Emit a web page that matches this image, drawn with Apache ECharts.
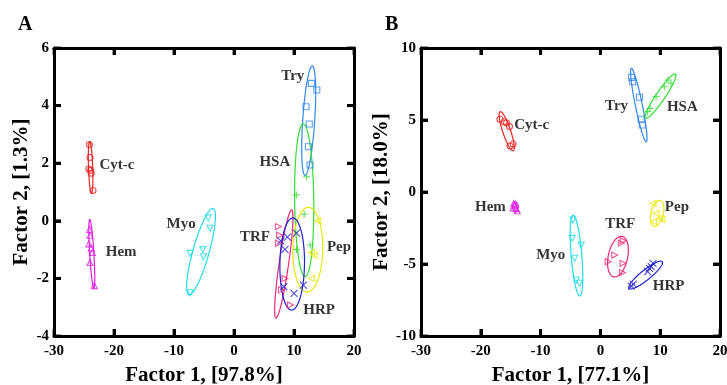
<!DOCTYPE html>
<html>
<head>
<meta charset="utf-8">
<script src="https://cdn.jsdelivr.net/npm/echarts@6/dist/echarts.min.js"></script>
<style>
html, body { margin: 0; padding: 0; background: #fff; }
#main { width: 727px; height: 385px; }
</style>
</head>
<body>
<div id="main"></div>
<script>
// groups, in drawing order
var groups = ['Cyt-c', 'Hem', 'Myo', 'Try', 'HSA', 'Pep', 'TRF', 'HRP'];

// panel A scores
var cytcA = [[-24.1, 2.65], [-24.0, 2.2], [-24.2, 1.8], [-23.8, 1.65], [-23.9, 1.75], [-23.5, 1.05]];
var hemA = [[-24.1, -0.3], [-24.0, -0.5], [-24.2, -0.8], [-23.8, -0.95], [-23.6, -1.1], [-24.0, -1.45], [-23.3, -2.25]];
var myoA = [[-4.3, 0.1], [-4.0, -0.26], [-7.3, -1.13], [-5.2, -1.0], [-5.1, -1.25], [-7.3, -2.5]];
var tryA = [[12.9, 4.77], [13.8, 4.54], [12.0, 3.96], [12.55, 3.36], [12.4, 2.57], [12.67, 1.94]];
var hsaA = [[12.1, 1.53], [10.4, 0.9], [11.7, 0.23], [10.4, -1.0], [12.7, -0.84]];
var pepA = [[14.0, 0.0], [12.9, -1.1], [13.3, -1.2], [12.9, -2.0]];
var trfA = [[7.4, -0.2], [7.4, -0.78], [8.5, -2.0], [7.9, -2.4], [9.4, -2.92], [7.6, -0.5]];
var hrpA = [[8.9, -0.57], [10.4, -0.43], [8.5, -0.99], [8.3, -2.29], [11.55, -2.23], [10.0, -2.52], [7.8, -0.7]];

// panel B scores
var cytcB = [[-16.8, 5.05], [-16.1, 4.88], [-15.7, 4.8], [-15.2, 4.54], [-15.1, 3.19], [-14.6, 3.33]];
var hemB = [[-14.5, -0.8], [-14.3, -0.95], [-14.1, -1.15], [-14.6, -1.1], [-14.2, -0.85], [-13.9, -1.3]];
var myoB = [[-4.6, -1.94], [-4.7, -3.22], [-3.2, -3.68], [-4.3, -4.6], [-4.0, -6.11], [-3.5, -6.34]];
var tryB = [[5.2, 7.96], [5.4, 7.66], [6.55, 6.58], [6.8, 5.05], [7.0, 4.65]];
var hsaB = [[7.9, 5.58], [8.3, 5.8], [9.3, 6.62], [10.7, 7.31], [11.3, 7.78], [11.8, 7.55]];
var pepB = [[8.8, -0.79], [9.3, -1.48], [9.9, -1.83], [10.3, -1.9], [8.9, -2.06]];
var trfB = [[3.8, -3.38], [3.5, -3.55], [2.4, -4.38], [1.3, -4.84], [3.8, -4.95], [3.7, -5.6]];
var hrpB = [[5.2, -6.53], [5.5, -6.4], [7.9, -5.53], [8.5, -5.19], [8.8, -4.95], [8.2, -5.3]];

// confidence ellipses: centre x, centre y, conjugate half-axes u and v (data units)
var ellipseA = [
    [-23.9, 1.85, -0.15, 0.9, 0.35, 0],
    [-23.7, -1.15, -0.35, 1.2, 0.35, 0],
    [-5.5, -1.07, 1.95, 1.5, 1.4, 0],
    [12.45, 3.48, 0.6, 1.9, 1.0, 0],
    [11.7, 0.71, -0.15, 2.65, 1.6, 0],
    [12.3, -1.0, 0.1, 1.47, 2.5, 0],
    [8.3, -1.5, 1.3, 1.88, 0.8, 0],
    [9.7, -1.5, 0.1, 1.6, 2.05, 0]
];
var ellipseB = [
    [-15.67, 4.22, -1.1, 1.36, 0.63, 0.09],
    [-14.2, -1.05, 0, 0.35, 0.45, 0],
    [-4.0, -4.41, -0.55, 2.81, 0.9, 0],
    [6.42, 6.04, -1.25, 2.55, 0.57, 0.05],
    [10.06, 6.66, 2.5, 1.53, 0.62, -0.18],
    [9.5, -1.48, 0.4, 0.9, 1.05, 0],
    [2.94, -4.49, 0.55, 1.41, 1.65, 0],
    [7.56, -5.77, 2.78, 0.93, 0.52, -0.27]
];

// group labels: text, x, y
var labelA = [['Try', 9.8, 5.03], ['HSA', 6.8, 2.05], ['Cyt-c', -19.5, 1.94], ['Hem', -18.8, -1.09],
    ['Myo', -8.8, -0.11], ['TRF', 3.5, -0.57], ['Pep', 17.5, -0.9], ['HRP', 14.2, -3.1]];
var labelB = [['Cyt-c', -11.5, 4.65], ['Try', 2.7, 5.97], ['HSA', 13.7, 5.88], ['Hem', -18.4, -1.06],
    ['Pep', 12.8, -1.06], ['TRF', 3.3, -2.22], ['Myo', -8.3, -4.38], ['HRP', 11.4, -6.53]];

var ticksX = { min: -30, max: 20, interval: 10 };
var ticksA = { min: -4, max: 6, interval: 2 };
var ticksB = { min: -10, max: 10, interval: 5 };

var colors = ['#ee2222', '#e020e0', '#22dde8', '#3388ee', '#33dd33', '#e8e800', '#ee2a7b', '#2222cc'];
var plusPath = 'path://M0,-5L0,5M-5,0L5,0';
var crossPath = 'path://M-4,-4L4,4M-4,4L4,-4';
var symbols = ['circle', 'triangle', 'triangle', 'rect', plusPath, 'triangle', 'triangle', crossPath];
var rotates = [0, 0, 180, 0, 0, 90, -90, 0];
var serif = "'Liberation Serif', 'Times New Roman', serif";

var myChart = echarts.init(document.getElementById('main'));

function renderEllipse(params, api) {
    var cx = api.value(0), cy = api.value(1);
    var ux = api.value(2), uy = api.value(3), vx = api.value(4), vy = api.value(5);
    var pts = [];
    for (var i = 0; i <= 80; i++) {
        var t = i / 80 * Math.PI * 2;
        pts.push(api.coord([cx + ux * Math.cos(t) + vx * Math.sin(t), cy + uy * Math.cos(t) + vy * Math.sin(t)]));
    }
    return {
        type: 'polyline',
        shape: { points: pts },
        style: { stroke: colors[api.value(6)], fill: null, lineWidth: 1.2 }
    };
}

function steps(t) {
    var out = [];
    for (var v = t.min; v <= t.max; v += t.interval) out.push(v);
    return out;
}

// one frame side
function side(gridIndex, pos, t, name) {
    var horiz = pos === 'bottom' || pos === 'top';
    var ax = {
        gridIndex: gridIndex, type: 'value', position: pos,
        min: t.min, max: t.max, interval: t.interval,
        axisLine: { show: true, onZero: false, lineStyle: { color: '#000', width: 3 } },
        axisTick: { show: true, inside: true, length: 7, lineStyle: { color: '#000', width: 3 } },
        splitLine: { show: false },
        axisLabel: { show: !!name, margin: horiz ? 8 : 5, fontFamily: serif, fontWeight: 'bold', fontSize: 15, color: '#000' }
    };
    if (name) {
        ax.name = name;
        ax.nameLocation = 'middle';
        ax.nameGap = horiz ? 29 : 22;
        ax.nameTextStyle = { fontFamily: serif, fontWeight: 'bold', fontSize: 21, color: '#000' };
    }
    return ax;
}

var series = [];

// inward frame ticks as small bars sitting on the frame, placed through the axes
function addTicks(axisIndex, ty) {
    var xs = steps(ticksX), ys = steps(ty);
    var sets = [
        { data: xs.map(function (v) { return [v, ty.min]; }), size: [3, 7], offset: [0, -3.5] },
        { data: xs.map(function (v) { return [v, ty.max]; }), size: [3, 7], offset: [0, 3.5] },
        { data: ys.map(function (v) { return [ticksX.min, v]; }), size: [7, 3], offset: [3.5, 0] },
        { data: ys.map(function (v) { return [ticksX.max, v]; }), size: [7, 3], offset: [-3.5, 0] }
    ];
    sets.forEach(function (s) {
        series.push({
            type: 'scatter', xAxisIndex: axisIndex, yAxisIndex: axisIndex, silent: true,
            clip: false, z: 6, symbol: 'rect', symbolSize: s.size, symbolOffset: s.offset,
            itemStyle: { color: '#000' }, data: s.data
        });
    });
}

function addPanel(axisIndex, pointSets, ellipses, labels, ty) {
    series.push({
        type: 'custom', xAxisIndex: axisIndex, yAxisIndex: axisIndex,
        renderItem: renderEllipse, silent: true,
        encode: { x: 0, y: 1 },
        data: ellipses.map(function (e, i) { return e.concat([i]); })
    });
    pointSets.forEach(function (pts, i) {
        series.push({
            name: groups[i], type: 'scatter', xAxisIndex: axisIndex, yAxisIndex: axisIndex,
            symbol: symbols[i], symbolRotate: rotates[i], symbolSize: i === 4 || i === 7 ? 7 : 6,
            itemStyle: { color: 'rgba(0,0,0,0)', borderColor: colors[i], borderWidth: 1.1 },
            data: pts
        });
    });
    series.push({
        type: 'scatter', xAxisIndex: axisIndex, yAxisIndex: axisIndex, silent: true,
        symbolSize: 1, itemStyle: { color: 'rgba(0,0,0,0)' },
        label: {
            show: true, position: 'inside', formatter: function (p) { return p.value[2]; },
            fontFamily: serif, fontWeight: 'bold', fontSize: 15, color: '#000'
        },
        data: labels.map(function (l) { return [l[1], l[2], l[0]]; })
    });
    addTicks(axisIndex, ty);
}

addPanel(0, [cytcA, hemA, myoA, tryA, hsaA, pepA, trfA, hrpA], ellipseA, labelA, ticksA);
addPanel(2, [cytcB, hemB, myoB, tryB, hsaB, pepB, trfB, hrpB], ellipseB, labelB, ticksB);

var option = {
    animation: false,
    title: [
        { text: 'A', left: 13, top: 10, textStyle: { fontFamily: serif, fontWeight: 'bold', fontSize: 20, color: '#000' } },
        { text: 'B', left: 380, top: 10, textStyle: { fontFamily: serif, fontWeight: 'bold', fontSize: 20, color: '#000' } }
    ],
    grid: [
        { left: 54, top: 48, width: 300, height: 288, outerBoundsMode: 'none' },
        { left: 421, top: 48, width: 299, height: 288, outerBoundsMode: 'none' }
    ],
    xAxis: [
        side(0, 'bottom', ticksX, 'Factor 1, [97.8%]'), side(0, 'top', ticksX),
        side(1, 'bottom', ticksX, 'Factor 1, [77.1%]'), side(1, 'top', ticksX)
    ],
    yAxis: [
        side(0, 'left', ticksA, 'Factor 2, [1.3%]'), side(0, 'right', ticksA),
        side(1, 'left', ticksB, 'Factor 2, [18.0%]'), side(1, 'right', ticksB)
    ],
    series: series
};
myChart.setOption(option);
</script>
</body>
</html>
